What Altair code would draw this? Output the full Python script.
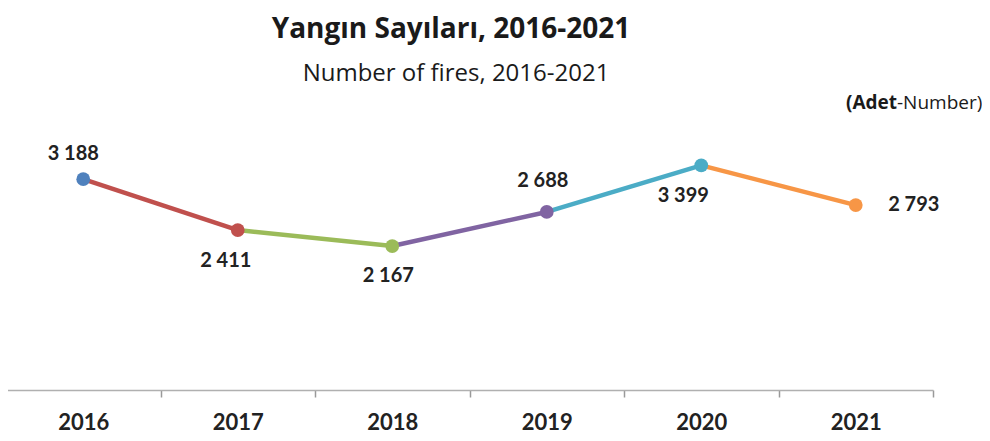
import altair as alt
import pandas as pd

years = ["2016", "2017", "2018", "2019", "2020", "2021"]
values = [3188, 2411, 2167, 2688, 3399, 2793]
point_colors = ["#4F81BD", "#C0504D", "#9BBB59", "#8064A2", "#4BACC6", "#F79646"]
title_text = "Yangın Sayıları, 2016-2021"
subtitle_text = "Number of fires, 2016-2021"
unit_bold = "(Adet"
unit_regular = "-Number)"

FONT = "Lato"
TFONT = "Open Sans"
labels = [f"{v:,}".replace(",", " ") for v in values]

pts = pd.DataFrame({"year": years, "value": values, "label": labels, "pc": years})

seg_rows = []
for k in range(1, len(years)):
    for j in (k - 1, k):
        seg_rows.append({"year": years[j], "value": values[j], "seg": years[k]})
segs = pd.DataFrame(seg_rows)

x_scale = alt.Scale(domain=years, paddingInner=0, paddingOuter=0, range=[-2, 925])
y_scale = alt.Scale(domain=[0, 4000])
color_scale = alt.Scale(domain=years, range=point_colors)

x_enc = alt.X("year:N", scale=x_scale, sort=years, title=None,
              axis=alt.Axis(tickBand="extent", tickSize=7, labelPadding=25,
                            labelBaseline="middle", labelAngle=0,
                            labelFont=FONT, labelFontSize=22, labelFontWeight="bold",
                            labelColor="#222222", domainColor="#b0b0b0", domainWidth=1.5,
                            tickColor="#999999", tickWidth=1.5, grid=False, offset=2))
y_enc = alt.Y("value:Q", scale=y_scale, axis=None)

lines = alt.Chart(segs).mark_line(strokeWidth=4.5).encode(
    x=x_enc, y=y_enc,
    color=alt.Color("seg:N", scale=color_scale, legend=None),
    detail="seg:N",
)

points = alt.Chart(pts).mark_point(filled=True, size=190, opacity=1).encode(
    x=alt.X("year:N", scale=x_scale, sort=years),
    y=y_enc,
    color=alt.Color("pc:N", scale=color_scale, legend=None),
)

offsets = [(-10, -25), (-12, 31), (-4, 30), (-4, -31), (-18, 31), (58, 0)]
label_layers = []
for yr, (dx, dy) in zip(years, offsets):
    label_layers.append(
        alt.Chart(pts).transform_filter(alt.datum.year == yr).mark_text(
            font=FONT, fontSize=20, fontWeight="bold", color="#222222",
            dx=dx, dy=dy, align="center", baseline="middle",
        ).encode(x=alt.X("year:N", scale=x_scale, sort=years), y=y_enc, text="label:N")
    )

def static_text(txt, x, y, size, weight, align):
    return alt.Chart(pd.DataFrame({"t": [txt]})).mark_text(
        font=TFONT, fontSize=size, fontWeight=weight, color="#1a1a1a",
        align=align, baseline="alphabetic",
    ).encode(text="t:N", x=alt.value(x), y=alt.value(y))

title = static_text(title_text, 443, -88, 28, "bold", "center")
subtitle = static_text(subtitle_text, 448, -45, 24, "normal", "center")
unit1 = static_text(unit_bold, 889, -17, 19, "bold", "right")
unit2 = static_text(unit_regular, 889, -17, 19, "normal", "left")

chart = alt.layer(lines, points, *label_layers, title, subtitle, unit1, unit2).properties(
    width=926, height=262,
    autosize=alt.AutoSizeParams(type="none"),
    padding={"left": 0, "top": 118, "right": 48, "bottom": 45},
).configure_view(stroke=None)

chart.save("out.html", embed_options={"renderer": "svg", "actions": False})
